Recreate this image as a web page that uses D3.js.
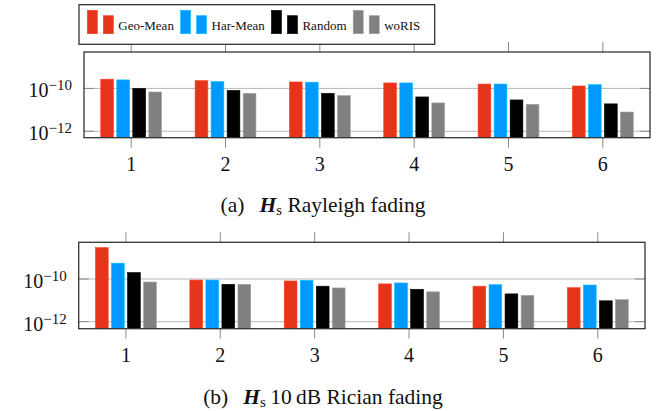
<!DOCTYPE html>
<html>
<head>
<meta charset="utf-8">
<script src="https://cdn.jsdelivr.net/npm/d3@7"></script>
<style>
  body { margin: 0; background: #fff; }
  svg { display: block; }
  text { font-family: "Liberation Serif", "Times New Roman", serif; fill: #111; }
</style>
</head>
<body>
<div id="chart"></div>
<script>
// Groups on the x axis
var groups = [1, 2, 3, 4, 5, 6];

// Series names and colours
var seriesNames  = ['Geo-Mean', 'Har-Mean', 'Random', 'woRIS'];
var seriesColors = ['#e6341b', '#0099ff', '#000000', '#808080'];

// (a) Rayleigh fading
var rayGeo  = [2.7e-10, 2.3e-10, 2.0e-10, 1.8e-10, 1.6e-10, 1.3e-10];
var rayHar  = [2.5e-10, 2.1e-10, 1.95e-10, 1.8e-10, 1.6e-10, 1.5e-10];
var rayRand = [1.0e-10, 8.1e-11, 5.9e-11, 4.0e-11, 2.9e-11, 1.9e-11];
var rayWo   = [6.8e-11, 5.9e-11, 4.6e-11, 2.1e-11, 1.8e-11, 7.9e-12];

// (b) 10 dB Rician fading
var ricGeo  = [2.95e-9, 8.9e-11, 8.1e-11, 5.9e-11, 4.6e-11, 3.9e-11];
var ricHar  = [5.5e-10, 8.9e-11, 8.7e-11, 6.5e-11, 5.4e-11, 5.2e-11];
var ricRand = [2.0e-10, 5.6e-11, 4.6e-11, 3.3e-11, 2.0e-11, 9.5e-12];
var ricWo   = [7.2e-11, 5.6e-11, 3.8e-11, 2.5e-11, 1.7e-11, 1.07e-11];

// Y axis ticks
var yTicks = [1e-12, 1e-10];

var W = 665, H = 411;

var svg = d3.select('#chart')
            .append('svg')
            .attr('width', W)
            .attr('height', H);

function DrawPanel (box, yDomain, series)
{
    var xScale = d3.scaleLinear()
                   .domain([0.5, 6.5])
                   .range([box.left, box.right]);

    var yScale = d3.scaleLog()
                   .domain(yDomain)
                   .range([box.bottom, box.top]);

    var step = xScale(2) - xScale(1);
    var barW = step * 0.135;
    var g = svg.append('g');

    // grid lines
    g.selectAll('line.grid')
     .data(yTicks)
     .enter()
     .append('line')
     .attr('x1', box.left).attr('x2', box.right)
     .attr('y1', function (d) { return yScale(d); })
     .attr('y2', function (d) { return yScale(d); })
     .attr('stroke', '#b8b8b8')
     .attr('stroke-width', 1);

    // y tick marks inside, both sides
    yTicks.forEach(function (t) {
        g.append('line')
         .attr('x1', box.left).attr('x2', box.left + 10)
         .attr('y1', yScale(t)).attr('y2', yScale(t))
         .attr('stroke', '#8a8a8a');
        g.append('line')
         .attr('x1', box.right - 10).attr('x2', box.right)
         .attr('y1', yScale(t)).attr('y2', yScale(t))
         .attr('stroke', '#8a8a8a');
    });

    // bars
    series.forEach(function (vals, i) {
        g.selectAll(null)
         .data(vals)
         .enter()
         .append('rect')
         .attr('x', function (d, j) { return xScale(groups[j]) + (i - 1.5) * step * 0.17 - barW / 2; })
         .attr('y', function (d) { return yScale(d); })
         .attr('width', barW)
         .attr('height', function (d) { return box.bottom - yScale(d); })
         .attr('fill', seriesColors[i])
         .attr('stroke', d3.color(seriesColors[i]).brighter(0.6))
         .attr('stroke-width', 0.6);
    });

    // x ticks outside, top and bottom
    groups.forEach(function (k) {
        g.append('line')
         .attr('x1', xScale(k)).attr('x2', xScale(k))
         .attr('y1', box.bottom).attr('y2', box.bottom + 10)
         .attr('stroke', '#8a8a8a');
        g.append('line')
         .attr('x1', xScale(k)).attr('x2', xScale(k))
         .attr('y1', box.top - 10).attr('y2', box.top)
         .attr('stroke', '#8a8a8a');
    });

    // frame
    g.append('rect')
     .attr('x', box.left).attr('y', box.top)
     .attr('width', box.right - box.left)
     .attr('height', box.bottom - box.top)
     .attr('fill', 'none')
     .attr('stroke', '#333')
     .attr('stroke-width', 1.3);

    // x tick labels
    g.selectAll('text.xl')
     .data(groups)
     .enter()
     .append('text')
     .attr('x', function (d) { return xScale(d); })
     .attr('y', box.bottom + 33)
     .attr('text-anchor', 'middle')
     .style('font-size', '20px')
     .text(function (d) { return d; });

    // y tick labels 10^e
    yTicks.forEach(function (t) {
        var e = Math.round(Math.log10(t));
        var txt = g.append('text')
                   .attr('x', box.left - 12)
                   .attr('y', yScale(t) + 9)
                   .attr('text-anchor', 'end')
                   .style('font-size', '20px');
        txt.append('tspan').text('10');
        txt.append('tspan')
           .attr('dy', -7)
           .style('font-size', '15px')
           .text('\u2212' + (-e));
    });
}

DrawPanel({ left: 84, right: 650, top: 52, bottom: 137.7 },
          [Math.pow(10, -12.3), Math.pow(10, -8.3)],
          [rayGeo, rayHar, rayRand, rayWo]);

DrawPanel({ left: 78.7, right: 645, top: 242.3, bottom: 328.7 },
          [Math.pow(10, -12.33), Math.pow(10, -8.28)],
          [ricGeo, ricHar, ricRand, ricWo]);

// Legend
var leg = svg.append('g');
leg.append('rect')
   .attr('x', 79).attr('y', 4.7)
   .attr('width', 355.7).attr('height', 39.6)
   .attr('fill', '#fff')
   .attr('stroke', '#333')
   .attr('stroke-width', 1.3);

var lx = 87.3;
seriesNames.forEach(function (name, i) {
    var c = seriesColors[i];
    leg.append('rect')
       .attr('x', lx).attr('y', 10.3).attr('width', 10).attr('height', 23.4)
       .attr('fill', c).attr('stroke', d3.color(c).brighter(0.6)).attr('stroke-width', 0.6);
    leg.append('rect')
       .attr('x', lx + 16).attr('y', 15.7).attr('width', 10).attr('height', 18)
       .attr('fill', c).attr('stroke', d3.color(c).brighter(0.6)).attr('stroke-width', 0.6);
    var t = leg.append('text')
               .attr('x', lx + 31).attr('y', 30)
               .style('font-size', '13px')
               .text(name);
    lx = lx + 31 + t.node().getComputedTextLength() + 6.7;
});

// Captions
function Caption (y, label, rest)
{
    var t = svg.append('text')
               .attr('x', 323)
               .attr('y', y)
               .attr('text-anchor', 'middle')
               .style('font-size', '21.5px');
    t.append('tspan').text(label + '\u2002\u2009');
    t.append('tspan').style('font-weight', 'bold').style('font-style', 'italic').text('H');
    t.append('tspan').attr('dy', 3).style('font-size', '15px').text('s');
    t.append('tspan').attr('dy', -3).text(rest);
}

Caption(212, '(a)', ' Rayleigh fading');
Caption(404, '(b)', '\u200910\u2009dB Rician fading');
</script>
</body>
</html>
